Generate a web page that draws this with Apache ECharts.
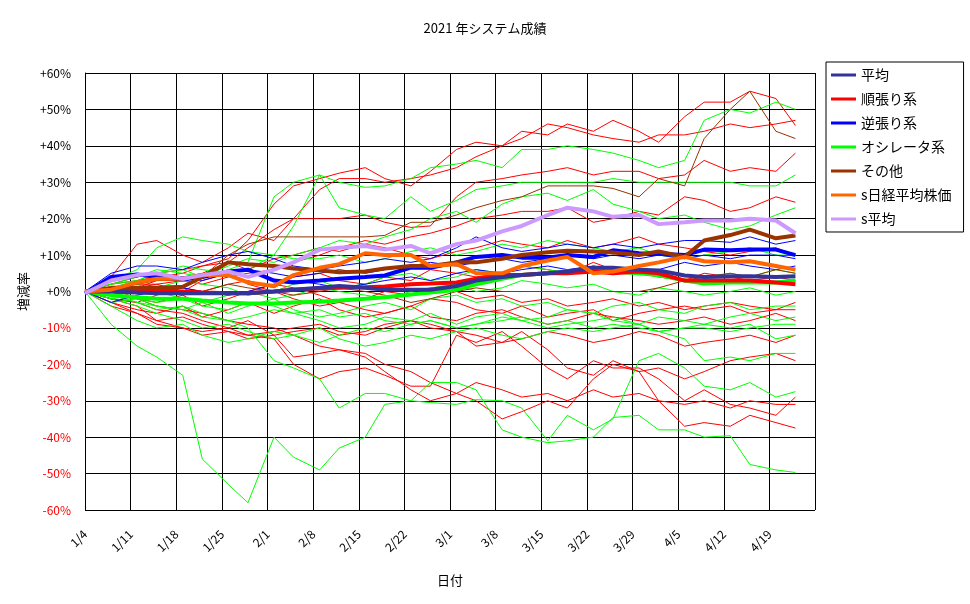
<!DOCTYPE html>
<html>
<head>
<meta charset="utf-8">
<script src="https://cdn.jsdelivr.net/npm/echarts@6/dist/echarts.min.js"></script>
<style>
  html, body { margin: 0; padding: 0; background: #fff; }
  #main { width: 970px; height: 604px; }
</style>
</head>
<body>
<div id="main"></div>
<script>
// dates of the plotted points (2021)
const dates = ['1/4','1/8','1/12','1/15','1/19','1/22','1/26','1/29','2/2','2/5','2/9','2/12','2/16','2/19','2/23','2/26',
               '3/2','3/5','3/9','3/12','3/16','3/19','3/23','3/26','3/30','4/2','4/6','4/9','4/13','4/16','4/20','4/23'];

// group averages (thick lines)
const avgAll   = [0,0,-0.3,-0.5,-0.5,-0.5,-0.5,-0.5,0,0.5,1,1.5,1,0.5,0.5,0.5,1.5,3,4,4.5,5,5.5,6.5,6.5,6,5.8,4.4,4,4.2,4.2,4,4.2];
const avgTrend = [0,0.5,0.5,0.3,0,-0.3,-0.5,-0.5,0,0.5,0.8,1,1.2,1.4,2,2.2,2.5,3.5,4.5,4.5,5,5,5.5,5,5.5,5,3,3,3,3,2.5,2];
const avgRev   = [-0.5,4,4.7,4,3.3,4,5.5,6,3,2.5,3,3.5,4,4.4,6.6,6.5,8,9.5,10,9.3,9.3,10,9.5,11.3,10.5,10.4,10,11.5,11.3,11.5,11.5,10];
const avgOsc   = [0,-1,-1.6,-2,-2,-2.5,-3,-3.3,-3.3,-3,-2.8,-2.5,-2,-1.6,-0.8,-0.3,0.5,2,3.5,4.5,5,5.5,5.8,5.5,5,4.5,3,2.2,2.5,2.5,2.5,3];
const avgOther = [0,1,1,1,1.3,4,8,7.5,7,6.3,5.8,5.3,5.5,6.3,7,7,8,8,9,10,10.8,11.2,11,10.7,10,11,9.5,14,15.5,17,14.6,15.4];
const nikkei   = [0,0.5,2.5,3.5,3.5,4.5,4.5,2.5,1.5,4.5,6.5,7.5,10.5,10,10,7,7.5,5,5,7,8.5,9.5,5,5.5,7,8,9.5,8.3,8,8.3,7,6];
const sAvg     = [-0.5,3,4.5,5,3.5,4.5,5.5,4,6,8,11.5,12,12.5,11.5,12.5,10.5,13,14,16.5,18,21,23,22,20.5,21,18.5,19,19.5,19.5,20,19.5,16];

// individual systems (thin lines)
const trendSys = [
  [0,2,4,5,6,7,9,14,24,29,31,32.5,34,31,29,33,39,41,40,44,43,46,44,47,44,41,48,52,52,55,53,45.6],
  [0,4,13,14,10,8,12,16,14,20,28,31,31,30,31,32,34,37,40,42,46,45,43,42,41,43,43,44,46,45,46,47],
  [0,-1,1,3,4,5,8,12,17,20,20,20,21,19,17.6,18,26,30,31,32,33,34,32,33,33,31,32,36,33,34,33,38],
  [0,1,2,2,3,2,4,5,6,8,10,12,14,13,15,16,18,20,21,22,22,23,19,20,22,21,26,25,22,23,26,24.5],
  [0,2,3,4,5,7,8,6,9,10,12,11,13,12,10,9,11,12,14,13,12,14,12,13,15,13,12,11,10,11,12,10],
  [0,-2,-3,-1,1,0,2,3,1,4,5,3,2,4,3,6,5,4,5,7,6,5,8,6,5,4,3,5,4,3,4,3],
  [0,1,-2,-3,-1,-4,-2,0,2,1,-1,-3,-2,0,-1,1,0,-2,-1,-3,-2,-4,-3,-2,-4,-3,-5,-4,-3,-4,-5,-3],
  [0,-3,-5,-6,-4,-7,-5,-3,-6,-4,-2,-5,-7,-6,-4,-2,-3,-5,-6,-4,-7,-6,-5,-8,-6,-5,-4,-5,-4,-6,-5,-5],
  [0,-1,1,2,0,3,5,2,0,-2,-4,-3,-5,-6,-4,-7,-8,-6,-5,-7,-9,-8,-6,-7,-8,-9,-8,-7,-9,-8,-6,-8],
  [0,-4,-6,-8,-7,-9,-11,-13,-12,-11,-10,-12,-11,-9,-8,-10,-11,-12,-14,-13,-11,-12,-14,-13,-11,-12,-15,-14,-13,-12,-14,-12],
  [0,-2,-3,-5,-6,-8,-10,-12,-11,-10,-9,-11,-12,-10,-8,-9,-11,-15,-14,-11,-16,-21,-23,-19,-22,-21,-24,-22,-19,-18,-17,-19],
  [0,-2,-4,-8,-10,-12,-11,-12,-13,-20,-24,-22,-21,-23,-26,-26,-12,-14,-11,-15,-21,-24,-19,-21,-21,-24,-30,-27,-31,-32,-34,-29],
  [0,-3,-6,-9,-10,-11,-10,-8,-12,-18,-17,-16,-17,-20,-22,-25,-28,-25,-27,-29,-28,-30,-27,-29,-28,-30,-31,-30,-32,-30,-31,-31],
  [0,-1,-2,-4,-5,-6,-8,-9,-10,-12,-15,-16,-18,-22,-27,-30,-28,-30,-35,-33,-30,-32,-24,-20,-22,-30,-37,-36,-37,-34,-36,-37.5]
];
const revSys = [
  [0,5,7,7,6,8,10,11,9,7,6,7,8,9,8,9,12,15,12,11,12,13,12,13,12,13,14,14,13.5,15,13,14],
  [0,3,4,5,4,3,5,6,5,4,5,6,5,6,7,8,7,8,9,8,9,10,9,10,9,10,9,10,9,10,10,9],
  [0,-3,-1,0,1,0,-1,0,2,3,2,1,2,3,4,3,5,6,5,6,7,6,7,6,5,6,8,7,8,7,6,7]
];
const oscSys = [
  [0,2,4,6,5,4,6,8,26,30,32,30,28.6,29,31,34,35,36,34,39,39,40,39,38,36,34,36,47,50,49,52,50],
  [0,1,3,5,7,6,5,6,10,18,32,23,21,20,26,22,25,28,29,30,30,30,30,31,30,30,30,30,30,29,29,32],
  [0,2,3,5,6,4,7,9,8,10,12,14,13,15,17,20,22,19,24,26,27,25,28,24,22,20,21,19,17,18,21,23],
  [0,3,6,12,15,14,13,11,10,9,9,10,8,9,11,12,10,11,13,12,14,13,12,11,12,10,9,10,11,12,10,10],
  [0,-2,-1,1,3,2,1,-1,0,2,3,1,2,4,5,3,4,6,5,7,6,5,7,6,5,4,3,4,5,4,6,5],
  [0,1,2,0,-2,-3,-1,0,-2,-1,1,0,-1,-2,0,1,2,0,1,3,2,1,2,0,-1,1,0,-1,0,1,-1,0],
  [0,-3,-2,-4,-5,-3,-6,-4,-2,-5,-7,-6,-4,-3,-5,-2,-1,-3,-2,-4,-3,-5,-6,-4,-3,-5,-6,-4,-3,-5,-4,-4],
  [0,-1,-3,-5,-4,-6,-8,-7,-5,-6,-8,-10,-9,-7,-8,-6,-9,-7,-6,-8,-7,-5,-6,-8,-9,-7,-8,-9,-7,-6,-8,-7],
  [0,-2,-4,-6,-8,-10,-9,-11,-13,-12,-14,-12,-10,-11,-9,-8,-10,-9,-7,-8,-10,-9,-8,-7,-9,-11,-10,-10,-11,-10,-9,-9],
  [0,-1,-2,-3,-2,-4,-5,-3,-4,-6,-5,-7,-6,-8,-9,-8,-10,-9,-8,-7,-9,-8,-10,-9,-10,-11,-13,-19,-18,-19,-17,-17],
  [0,-4,-8,-10,-9,-12,-14,-13,-11,-12,-10,-13,-15,-14,-12,-13,-11,-10,-12,-13,-11,-10,-11,-10,-9,-11,-10,-9,-10,-9,-13,-12],
  [0,-1,-3,-4,-5,-7,-8,-10,-19,-21,-24,-32,-28,-28,-30,-30.5,-31,-29.7,-30,-32,-41,-34,-38,-35,-19,-17,-21,-26,-27,-25,-29,-27.5],
  [0,-9,-15,-18,-23,-46,-53,-58,-40,-45.5,-49,-43,-40,-31,-30,-25,-25,-27,-38,-40,-41.5,-41,-40,-34.6,-34,-38,-38,-40,-39.6,-47.5,-49,-49.7]
];
const otherSys = [
  [0,1,2,3,3,4,10,13,15,15,15,15,15,15.4,19,19,21,23,25,26,29,29,29,28.3,26,31,29,42,50,55,44,42],
  [0,-1,0,1,-1,0,2,1,0,-1,0,1,0,-1,-3,-2,0,1,0,0,0,0,0,0,0,1,3,4,5,4,6,5]
];

const weekTicks = ['1/4','1/11','1/18','1/25','2/1','2/8','2/15','2/22','3/1','3/8','3/15','3/22','3/29','4/5','4/12','4/19'];

function dayOf(s) {
  const p = s.split('/');
  return Math.round((Date.UTC(2021, +p[0] - 1, +p[1]) - Date.UTC(2021, 0, 4)) / 86400000);
}
function pts(vals) {
  return vals.map((v, i) => [dayOf(dates[i]), v]);
}

const series = [];
function addThin(list, name, color) {
  list.forEach((vals, k) => {
    series.push({
      name: name + (k + 1), type: 'line', data: pts(vals), symbol: 'none',
      lineStyle: { color: color, width: 1 }, itemStyle: { color: color }, z: 2
    });
  });
}
addThin(trendSys, 'trend', '#ff0000');
addThin(oscSys, 'osc', '#00ff00');
addThin(revSys, 'rev', '#0000ff');
addThin(otherSys, 'other', '#993300');

function addThick(name, vals, color) {
  series.push({
    name: name, type: 'line', data: pts(vals), symbol: 'none',
    lineStyle: { color: color, width: 4 }, itemStyle: { color: color }, z: 3
  });
}
addThick('オシレータ系', avgOsc, '#00ff00');
addThick('順張り系', avgTrend, '#ff0000');
addThick('平均', avgAll, '#333399');
addThick('逆張り系', avgRev, '#0000ff');
addThick('その他', avgOther, '#993300');
addThick('s日経平均株価', nikkei, '#ff6600');
addThick('s平均', sAvg, '#cc99ff');

const font = '"Noto Sans CJK JP", "Noto Sans", sans-serif';
const chart = echarts.init(document.getElementById('main'));
chart.setOption({
  animation: false,
  backgroundColor: '#fff',
  textStyle: { fontFamily: font },
  title: {
    text: '2021 年システム成績', left: 'center', top: 17,
    textStyle: { fontSize: 13, fontWeight: 'normal', color: '#000', fontFamily: font }
  },
  legend: {
    data: ['平均','順張り系','逆張り系','オシレータ系','その他','s日経平均株価','s平均'],
    orient: 'vertical', left: 826, top: 62,
    borderColor: '#000', borderWidth: 1, padding: [6, 12, 6, 5],
    itemWidth: 25, itemHeight: 3, itemGap: 10, icon: 'rect',
    textStyle: { fontSize: 14, color: '#000', fontFamily: font, padding: [0, 0, 0, 0] }
  },
  grid: { left: 85, right: 155, top: 73, bottom: 94, containLabel: false },
  xAxis: {
    type: 'value', min: 0, max: 112, interval: 7,
    name: '日付', nameLocation: 'middle', nameGap: 64,
    nameTextStyle: { fontSize: 13, color: '#000' },
    axisLine: { lineStyle: { color: '#000', width: 1 } },
    axisTick: { show: false },
    splitLine: { show: true, lineStyle: { color: '#000', width: 1 } },
    axisLabel: {
      rotate: 45, margin: 22, fontSize: 12, color: '#000',
      formatter: v => weekTicks[v / 7] || ''
    }
  },
  yAxis: {
    type: 'value', min: -60, max: 60, interval: 10,
    name: '増減率', nameLocation: 'middle', nameGap: 50, nameRotate: 90,
    nameTextStyle: { fontSize: 13, color: '#000' },
    axisLine: { show: true, lineStyle: { color: '#000', width: 1 } },
    axisTick: { show: false },
    splitLine: { show: true, lineStyle: { color: '#000', width: 1 } },
    axisLabel: {
      fontSize: 12, margin: 14,
      formatter: v => v < 0 ? '{neg|' + v + '%}' : '{pos|+' + v + '%}',
      rich: { neg: { color: '#ff0000', fontSize: 12 }, pos: { color: '#000', fontSize: 12 } }
    }
  },
  series: series
});
</script>
</body>
</html>
